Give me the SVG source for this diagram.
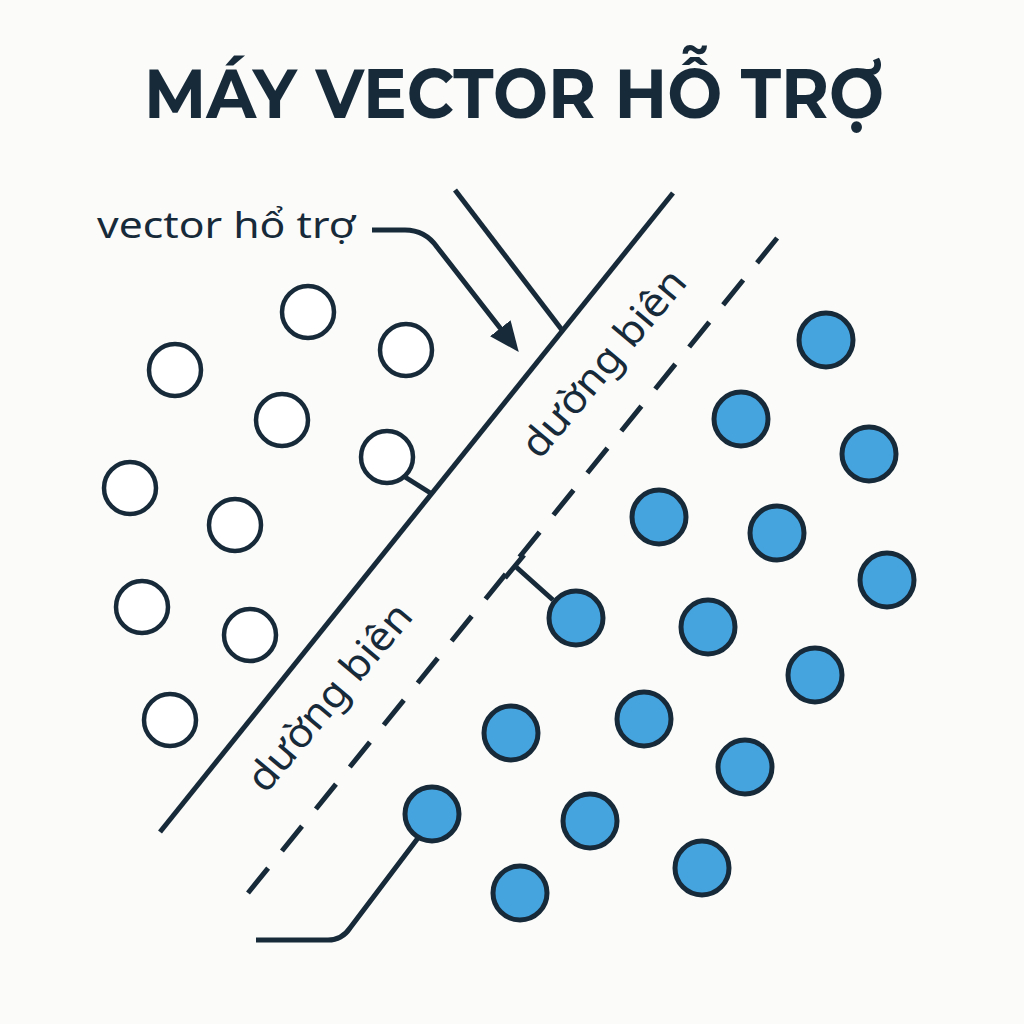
<svg xmlns="http://www.w3.org/2000/svg" width="1024" height="1024" viewBox="0 0 1024 1024">
<defs>
<style>
.ln{fill:none;stroke:#172a3a;stroke-width:5;stroke-linecap:butt}
.h{fill:#fff;stroke:#172a3a;stroke-width:4.5}
.b{fill:#45a3de;stroke:#172a3a;stroke-width:5}
.lbl{font-family:"Noto Sans","DejaVu Sans",sans-serif;fill:#172a3a}
</style>
<marker id="ah" viewBox="0 0 30 26" refX="6" refY="13" markerWidth="30" markerHeight="26" markerUnits="userSpaceOnUse" orient="auto">
<path d="M0,0 L30,13 L0,26 Z" fill="#172a3a"/>
</marker>
</defs>
<rect width="1024" height="1024" fill="#fbfbf9"/>
<text x="514" y="118" text-anchor="middle" font-family="Montserrat,'Noto Sans','Liberation Sans',sans-serif" font-weight="bold" font-size="70" fill="#172a3a" textLength="740" lengthAdjust="spacingAndGlyphs">MÁY VECTOR HỖ TRỢ</text>
<g id="connectors">
<line class="ln" x1="160" y1="832" x2="673" y2="193"/>
<line class="ln" x1="248" y1="893" x2="778" y2="237" stroke-dasharray="32 22"/>
<line class="ln" x1="455" y1="190" x2="562" y2="330"/>
<path class="ln" d="M372,230 H405 Q425,230 437,247 L504,333" marker-end="url(#ah)"/>
<path class="ln" d="M405,477 L432,494"/>
<path class="ln" d="M553,600 L515,566 M505,578 L524,555"/>
<path class="ln" d="M418,838 L350,928 Q342,940 328,940 H256"/>
</g>
<g id="label-vector"><text class="lbl" x="97" y="238" font-size="37" textLength="258" lengthAdjust="spacingAndGlyphs">vector hổ trợ</text></g>
<g id="label-bien1"><text class="lbl" font-size="40" text-anchor="middle" textLength="232" lengthAdjust="spacingAndGlyphs" transform="translate(614,372) rotate(-50)">dường biên</text></g>
<g id="label-bien2"><text class="lbl" font-size="40" text-anchor="middle" textLength="232" lengthAdjust="spacingAndGlyphs" transform="translate(340,706) rotate(-50)">dường biên</text></g>
<g id="hollow">
<circle id="h1" class="h" cx="308" cy="312" r="26"/>
<circle id="h2" class="h" cx="175" cy="370" r="26"/>
<circle id="h3" class="h" cx="406" cy="350" r="26"/>
<circle id="h4" class="h" cx="282" cy="420" r="26"/>
<circle id="h5" class="h" cx="387" cy="457" r="26"/>
<circle id="h6" class="h" cx="130" cy="488" r="26"/>
<circle id="h7" class="h" cx="235" cy="525" r="26"/>
<circle id="h8" class="h" cx="142" cy="607" r="26"/>
<circle id="h9" class="h" cx="250" cy="635" r="26"/>
<circle id="h10" class="h" cx="170" cy="720" r="26"/>
</g>
<g id="blue">
<circle id="b1" class="b" cx="826" cy="340" r="27"/>
<circle id="b2" class="b" cx="741" cy="419" r="27"/>
<circle id="b3" class="b" cx="869" cy="454" r="27"/>
<circle id="b4" class="b" cx="659" cy="517" r="27"/>
<circle id="b5" class="b" cx="777" cy="533" r="27"/>
<circle id="b6" class="b" cx="887" cy="580" r="27"/>
<circle id="b7" class="b" cx="576" cy="618" r="27"/>
<circle id="b8" class="b" cx="708" cy="627" r="27"/>
<circle id="b9" class="b" cx="815" cy="675" r="27"/>
<circle id="b10" class="b" cx="511" cy="733" r="27"/>
<circle id="b11" class="b" cx="644" cy="719" r="27"/>
<circle id="b12" class="b" cx="745" cy="767" r="27"/>
<circle id="b13" class="b" cx="432" cy="814" r="27"/>
<circle id="b14" class="b" cx="590" cy="821" r="27"/>
<circle id="b15" class="b" cx="702" cy="868" r="27"/>
<circle id="b16" class="b" cx="520" cy="893" r="27"/>
</g>
</svg>
